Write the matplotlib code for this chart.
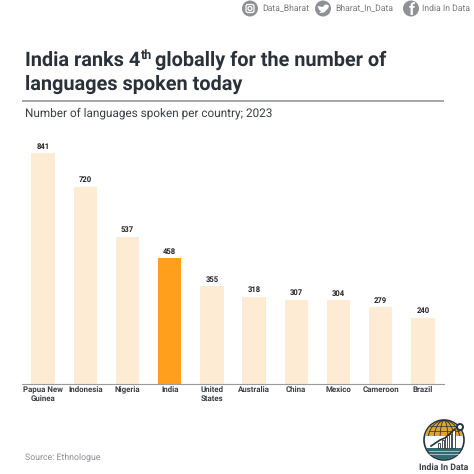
import matplotlib
matplotlib.use("Agg")
import matplotlib.pyplot as plt
from matplotlib.patches import Circle, Rectangle, FancyBboxPatch, Polygon, Ellipse

countries = ["Papua New\nGuinea", "Indonesia", "Nigeria", "India", "United\nStates",
             "Australia", "China", "Mexico", "Cameroon", "Brazil"]
languages = [841, 720, 537, 458, 355, 318, 307, 304, 279, 240]
highlight = "India"
handles = ["Data_Bharat", "Bharat_In_Data", "India In Data"]

W = H = 474
plt.rcParams["font.family"] = ["Roboto", "DejaVu Sans"]
plt.rcParams["text.hinting"] = "no_hinting"
fig = plt.figure(figsize=(W / 100, H / 100), dpi=100, facecolor="white")
bg = fig.add_axes([0, 0, 1, 1])
bg.set_xlim(0, W); bg.set_ylim(H, 0); bg.axis("off")

ink = "#2b3138"
TS = 14.3
# Title
t1 = bg.text(25, 60, "India ranks 4", fontsize=TS, fontweight="bold", color=ink, va="center")
fig.canvas.draw()
inv = bg.transData.inverted()
x_end = inv.transform((t1.get_window_extent().x1, 0))[0]
sup = bg.text(x_end + 0.5, 55.5, "th", fontsize=9, fontweight="bold", color=ink, va="center")
x_end2 = inv.transform((sup.get_window_extent().x1, 0))[0]
bg.text(x_end2 + 3.5, 60, "globally for the number of", fontsize=TS, fontweight="bold", color=ink, va="center")
bg.text(25, 84.5, "languages spoken today", fontsize=TS, fontweight="bold", color=ink, va="center")
bg.add_patch(Rectangle((22, 100), 422, 2.4, color="#a5a7ab", lw=0))
bg.text(25, 113.5, "Number of languages spoken per country; 2023", fontsize=8.5, color="#3a3f45", va="center")
bg.text(25, 457.5, "Source: Ethnologue", fontsize=6.35, color="#8b8e92", va="center")

# Social header
grey = "#8f9194"
lab = "#77797c"
icon_x = [250, 323, 411]
text_x = [262, 335, 422.5]
for ix, tx, h in zip(icon_x, text_x, handles):
    bg.add_patch(Circle((ix, 8.5), 8, color=grey, lw=0))
    bg.text(tx, 8.5, h, fontsize=6.25, color=lab, va="center")
bg.add_patch(FancyBboxPatch((246, 4.5), 8, 8, boxstyle="round,pad=0,rounding_size=2",
                            fc="none", ec="white", lw=0.9))
bg.add_patch(Circle((250, 8.5), 2, fc="none", ec="white", lw=0.9))
bg.add_patch(Polygon([(317.5, 6), (320, 6.5), (323, 7), (325, 4.5), (328, 4.8), (329, 6.5), (327.5, 9),
                      (324, 12.5), (319, 13), (321, 11.5), (319, 9.5)], color="white", lw=0))
bg.text(412, 10, "f", fontsize=12, fontweight="bold", color="white", ha="center", va="center")

# Chart
ax = fig.add_axes([22 / W, 1 - 383.5 / H, 422 / W, 230 / H])
ax.patch.set_alpha(0)
colors = ["#ff9f1c" if c == highlight else "#feebd3" for c in countries]
ax.bar(range(len(countries)), languages, width=0.55, color=colors, linewidth=0)
ax.set_xlim(-0.5, 9.5)
ax.set_ylim(0, 841)
ax.set_yticks([])
ax.set_xticks(range(len(countries)))
ax.set_xticklabels(countries, fontsize=5.7, fontweight="bold", color="#3a3f45", linespacing=1.15, va="top")
ax.tick_params(axis="x", length=0, pad=2)
for s in ["top", "left", "right"]:
    ax.spines[s].set_visible(False)
ax.spines["bottom"].set_color("#9a9a9a")
ax.spines["bottom"].set_linewidth(0.8)
for i, v in enumerate(languages):
    ax.annotate(str(v), (i, v), xytext=(0, 2.2), textcoords="offset points", ha="center", va="bottom",
                fontsize=5.5, fontweight="bold", color="#222222", annotation_clip=False)

# Logo
cx, cy, r = 444, 440, 20
gold = "#e2a42b"; teal = "#2f6b73"; navy = "#26323d"
bg.add_patch(Circle((cx, cy), r, fc="white", ec=navy, lw=1.2, zorder=3))
disc = Circle((cx, cy), r - 0.6, transform=bg.transData)
top = Rectangle((cx - r, cy - r), 2 * r, 16, fc=gold, lw=0, zorder=3)
bg.add_patch(top); top.set_clip_path(disc)
bot = Rectangle((cx - r, cy + 8), 2 * r, 12, fc=teal, lw=0, zorder=3)
bg.add_patch(bot); bot.set_clip_path(disc)
for w in (8, 20, 32):
    e = Ellipse((cx, cy), w, 2 * r - 1, fc="none", ec=navy, lw=0.6, zorder=3.5)
    bg.add_patch(e); e.set_clip_path(top.get_path().transformed(top.get_patch_transform()), bg.transData)
for dy in (-14, -9):
    bg.plot([cx - 15, cx + 15], [cy + dy, cy + dy], color=navy, lw=0.5, zorder=3.5)
for dy in (11, 14):
    bg.plot([cx - 15, cx + 15], [cy + dy, cy + dy], color="white", lw=0.4, zorder=3.5)
bars_h = [5, 8, 11, 14, 18]
for i, h in enumerate(bars_h):
    bg.add_patch(Rectangle((cx - 6 + i * 3.6, cy + 8 - h), 2.2, h, fc="white", ec=navy, lw=0.6, zorder=4))
bg.plot([cx - 13, cx - 4, cx + 1, cx + 11], [cy + 6, cy, cy - 2, cy - 11], color=navy, lw=1.2, zorder=5)
bg.add_patch(Circle((cx + 16, cy - 13), 3, fc="white", ec=navy, lw=1.4, zorder=5))
bg.text(444, 467, "India In Data", fontsize=6.3, fontweight="bold", color="#3a3f45", ha="center", va="center")

fig.savefig("out.png", dpi=100, facecolor="white")
